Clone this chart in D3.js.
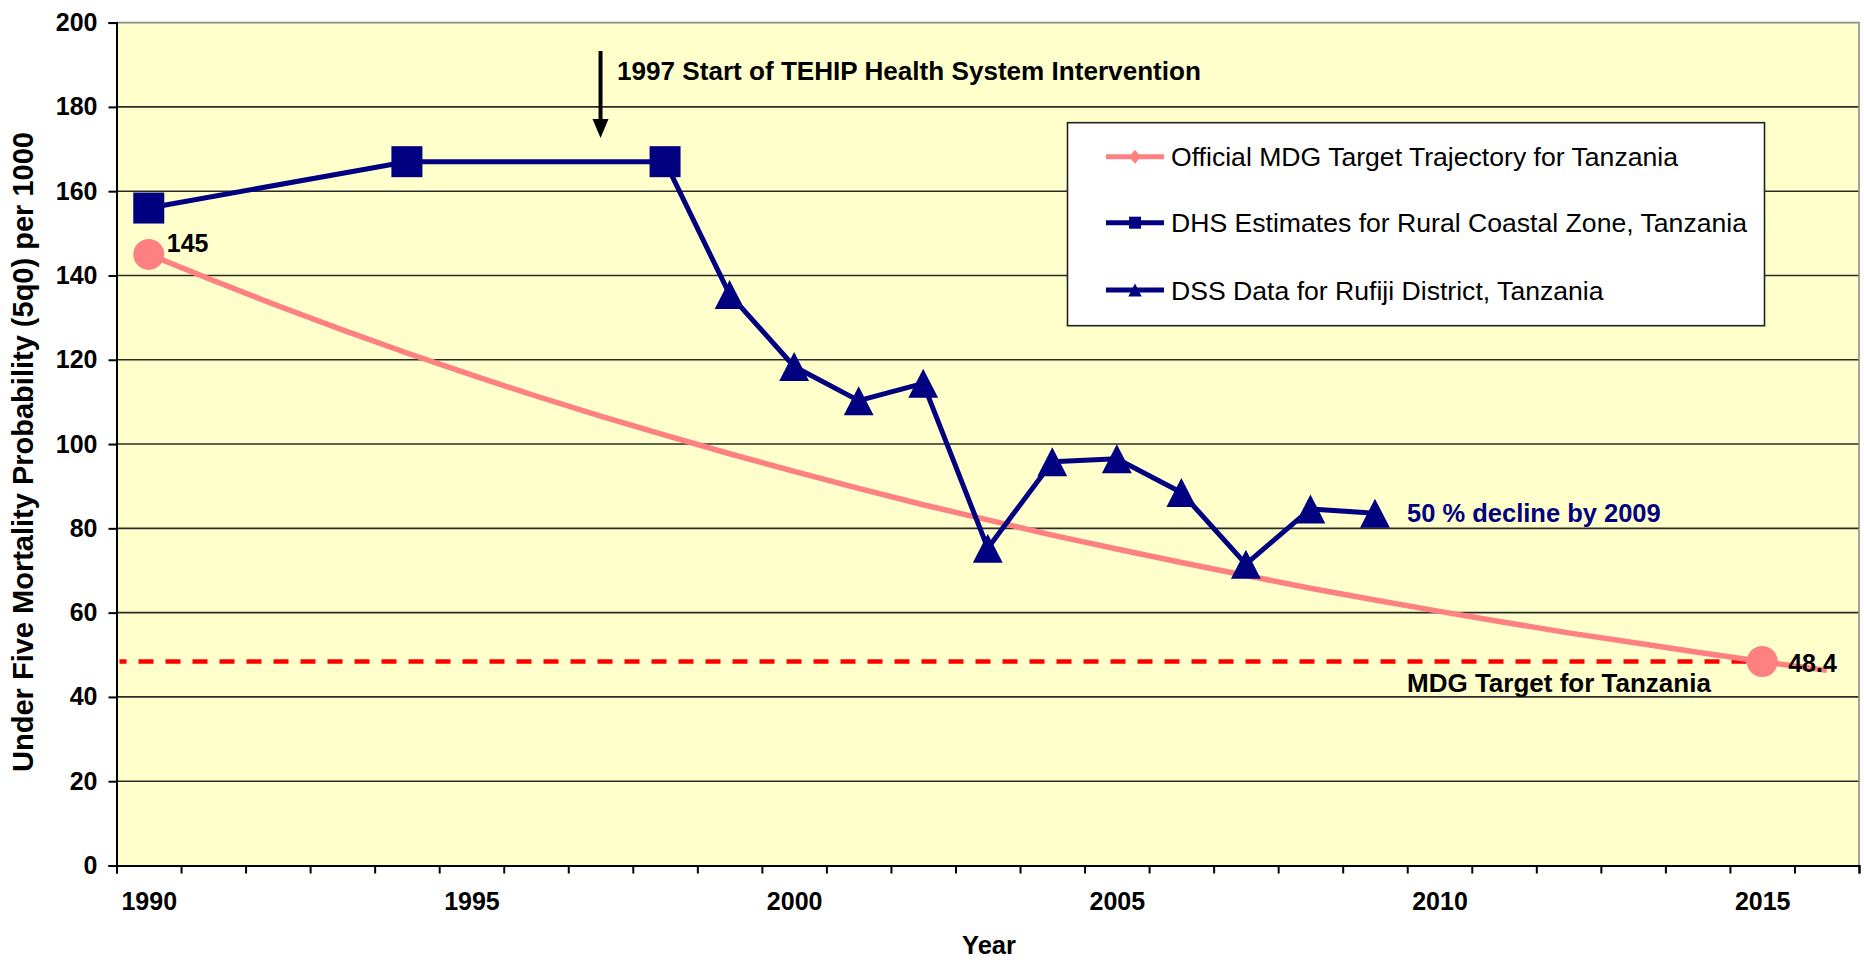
<!DOCTYPE html>
<html>
<head>
<meta charset="utf-8">
<script src="https://cdn.jsdelivr.net/npm/d3@7"></script>
<style>
  html, body { margin: 0; padding: 0; background: #ffffff; }
  svg { display: block; }
  text { font-family: "Liberation Sans", Arial, sans-serif; }
</style>
</head>
<body>
<svg id="chart" width="1864" height="963"></svg>
<script>
// ---------------- DATA ----------------
const years = d3.range(1990, 2017); // category axis 1990..2016
const yearLabels = [1990, 1995, 2000, 2005, 2010, 2015];
const yTicks = [0, 20, 40, 60, 80, 100, 120, 140, 160, 180, 200];

// Official MDG Target Trajectory (1990..2016)
const mdgYears = d3.range(1990, 2017);
const mdgValues = [145, 138.8, 132.8, 127.1, 121.6, 116.4, 111.4, 106.6, 102.1, 97.7,
                   93.5, 89.5, 85.6, 82.0, 78.4, 75.1, 71.9, 68.8, 65.8, 63.0,
                   60.3, 57.7, 55.2, 52.9, 50.6, 48.4, 46.3];
const mdgMarkerYears = [1990, 2015];
const mdgMarkerValues = [145, 48.4];

// DHS Estimates for Rural Coastal Zone
const dhsYears = [1990, 1994, 1998];
const dhsValues = [156, 167, 167];

// DSS Data for Rufiji District
const dssYears = [1998, 1999, 2000, 2001, 2002, 2003, 2004, 2005, 2006, 2007, 2008, 2009];
const dssValues = [167, 135.5, 118.4, 110.3, 114.4, 75.3, 95.8, 96.5, 88.5, 71.5, 84.6, 83.6];

const targetValue = 48.4;
const seriesNames = [
  "Official MDG Target Trajectory for Tanzania",
  "DHS Estimates for Rural Coastal Zone, Tanzania",
  "DSS Data for Rufiji District, Tanzania"
];
const yTitle = "Under Five Mortality Probability (5q0) per 1000";
const xTitle = "Year";
const annotationText = "1997 Start of TEHIP Health System Intervention";
const annotationYear = 1997;
const declineText = "50 % decline by 2009";
const targetText = "MDG Target for Tanzania";

// ---------------- LAYOUT ----------------
const L = 116.5, R = 1859, T = 22.6, B = 865.5;
const PINK = "#FF8080", NAVY = "#000080";
const svg = d3.select("#chart");

const x = d3.scaleLinear().domain([1989.5, 2016.5]).range([L, R]);
const y = d3.scaleLinear().domain([0, 200]).range([B, T]);

// plot background
svg.append("rect").attr("x", L).attr("y", T).attr("width", R - L).attr("height", B - T)
  .attr("fill", "#FFFFCC");

// gridlines
svg.append("g").selectAll("line").data(yTicks.filter(v => v > 0 && v < 200)).join("line")
  .attr("x1", L).attr("x2", R).attr("y1", d => y(d)).attr("y2", d => y(d))
  .attr("stroke", "#2a2a2a").attr("stroke-width", 1.6);

// border top/right grey
svg.append("path")
  .attr("d", `M${L},${T}H${R}V${B}`)
  .attr("fill", "none").attr("stroke", "#8c8c8c").attr("stroke-width", 1.6);

// Y axis
const yAxis = svg.append("g").attr("transform", `translate(${L},0)`)
  .call(d3.axisLeft(y).tickValues(yTicks).tickSize(8).tickPadding(11).tickFormat(d3.format("d")));
yAxis.select(".domain").attr("stroke", "#000").attr("stroke-width", 2);
yAxis.selectAll(".tick line").attr("stroke", "#000").attr("stroke-width", 2);
yAxis.selectAll("text").attr("font-size", 25).attr("font-weight", "bold").attr("fill", "#000")
  .attr("font-family", "Liberation Sans, Arial, sans-serif");

// X axis ticks (category boundaries)
const xAxis = svg.append("g").attr("transform", `translate(0,${B})`)
  .call(d3.axisBottom(x).tickValues(d3.range(1989.5, 2017, 1)).tickSize(8).tickFormat(""));
xAxis.select(".domain").attr("stroke", "#000").attr("stroke-width", 2);
xAxis.selectAll(".tick line").attr("stroke", "#000").attr("stroke-width", 2);

// X labels
const xLab = svg.append("g").attr("transform", `translate(0,${B})`)
  .call(d3.axisBottom(x).tickValues(yearLabels).tickSize(0).tickPadding(27).tickFormat(d3.format("d")));
xLab.select(".domain").remove();
xLab.selectAll("text").attr("font-size", 25).attr("font-weight", "bold").attr("fill", "#000")
  .attr("font-family", "Liberation Sans, Arial, sans-serif");

// Axis titles
svg.append("text").attr("x", 989).attr("y", 945).attr("dy", "0.36em").attr("text-anchor", "middle")
  .attr("font-size", 25.5).attr("font-weight", "bold").text(xTitle);
svg.append("text").attr("transform", `translate(23,452) rotate(-90)`).attr("dy", "0.36em")
  .attr("text-anchor", "middle").attr("font-size", 29).attr("font-weight", "bold").text(yTitle);

// Target dashed line
svg.append("line").attr("x1", L + 3).attr("x2", 1782)
  .attr("y1", y(targetValue)).attr("y2", y(targetValue))
  .attr("stroke", "#FF0000").attr("stroke-width", 4.5).attr("stroke-dasharray", "15,12")
  .attr("stroke-dashoffset", 8);

// MDG trajectory line
const lineGen = d3.line().x(d => x(d[0])).y(d => y(d[1]));
svg.append("path").datum(d3.zip(mdgYears, mdgValues)).attr("d", lineGen)
  .attr("fill", "none").attr("stroke", PINK).attr("stroke-width", 5.5);
svg.append("g").selectAll("circle").data(d3.zip(mdgMarkerYears, mdgMarkerValues)).join("circle")
  .attr("cx", d => x(d[0])).attr("cy", d => y(d[1])).attr("r", 15.5).attr("fill", PINK);

// DSS line + triangles
const tri = s => `M0,${-s}L${s * 1.03},${s}L${-s * 1.03},${s}Z`;
svg.append("path").datum(d3.zip(dssYears, dssValues)).attr("d", lineGen)
  .attr("fill", "none").attr("stroke", NAVY).attr("stroke-width", 5).attr("stroke-linejoin", "round");
svg.append("g").selectAll("path").data(d3.zip(dssYears, dssValues)).join("path")
  .attr("transform", d => `translate(${x(d[0])},${y(d[1])})`)
  .attr("d", tri(14.5)).attr("fill", NAVY);

// DHS line + squares
svg.append("path").datum(d3.zip(dhsYears, dhsValues)).attr("d", lineGen)
  .attr("fill", "none").attr("stroke", NAVY).attr("stroke-width", 5);
svg.append("g").selectAll("rect").data(d3.zip(dhsYears, dhsValues)).join("rect")
  .attr("x", d => x(d[0]) - 15.5).attr("y", d => y(d[1]) - 15.5)
  .attr("width", 31).attr("height", 31).attr("fill", NAVY);

// data labels
svg.append("text").attr("x", x(1990) + 18).attr("y", y(mdgMarkerValues[0]) - 11)
  .attr("dy", "0.36em").attr("font-size", 25).attr("font-weight", "bold").text(d3.format("d")(mdgMarkerValues[0]));
svg.append("text").attr("x", x(2015) + 26).attr("y", y(mdgMarkerValues[1]) + 1)
  .attr("dy", "0.36em").attr("font-size", 25).attr("font-weight", "bold").text(mdgMarkerValues[1]);

// annotations
svg.append("text").attr("x", 1407).attr("y", 683).attr("dy", "0.36em")
  .attr("font-size", 26).attr("font-weight", "bold").text(targetText);
svg.append("text").attr("x", 1407).attr("y", 513).attr("dy", "0.36em")
  .attr("font-size", 25.5).attr("font-weight", "bold").attr("fill", NAVY).text(declineText);

// arrow
const ax = x(annotationYear);
svg.append("line").attr("x1", ax).attr("x2", ax).attr("y1", 51).attr("y2", 122)
  .attr("stroke", "#000").attr("stroke-width", 4);
svg.append("path").attr("d", `M${ax - 8},${119}L${ax + 8},${119}L${ax},${138}Z`).attr("fill", "#000");
svg.append("text").attr("x", 617).attr("y", 71).attr("dy", "0.36em")
  .attr("font-size", 26.1).attr("font-weight", "bold").text(annotationText);

// Legend
const lg = svg.append("g");
lg.append("rect").attr("x", 1067.5).attr("y", 122.7).attr("width", 697).attr("height", 203)
  .attr("fill", "#fff").attr("stroke", "#222").attr("stroke-width", 1.6);
const rowsY = [156.7, 222.7, 290];
const colors = [PINK, NAVY, NAVY];
seriesNames.forEach((name, i) => {
  const gy = rowsY[i];
  lg.append("line").attr("x1", 1106).attr("x2", 1164).attr("y1", gy).attr("y2", gy)
    .attr("stroke", colors[i]).attr("stroke-width", 5);
  if (i === 0) {
    lg.append("path").attr("d", `M1135,${gy - 7}L1141,${gy}L1135,${gy + 7}L1129,${gy}Z`).attr("fill", PINK);
  } else if (i === 1) {
    lg.append("rect").attr("x", 1129).attr("y", gy - 6).attr("width", 12).attr("height", 12).attr("fill", NAVY);
  } else {
    lg.append("path").attr("transform", `translate(1135,${gy})`).attr("d", tri(6.5)).attr("fill", NAVY);
  }
  lg.append("text").attr("x", 1171).attr("y", gy).attr("dy", "0.36em")
    .attr("font-size", 26.6).attr("fill", "#000").text(name);
});
</script>
</body>
</html>
